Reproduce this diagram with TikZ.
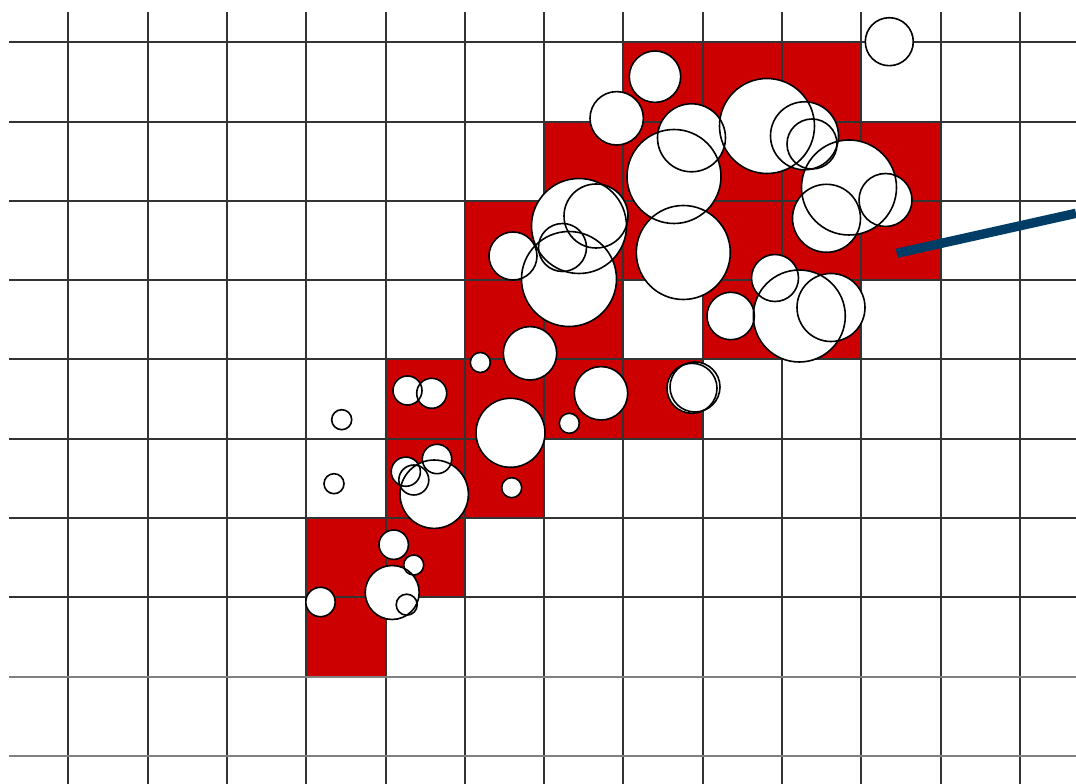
\documentclass[tikz,border=0pt]{standalone}
\usepackage{tikz}
\definecolor{cellred}{RGB}{204,0,0}
\definecolor{lineblue}{RGB}{0,61,102}
\tikzset{
  gridv/.style={draw=black!80, line width=1.5pt},
  gridh/.style={draw=black!80, line width=1.5pt},
  gridhlight/.style={draw=black!50, line width=1.4pt},
  redcell/.style={fill=cellred},
  bubblefill/.style={fill=white},
  bubbleline/.style={draw=black, line width=1.2pt},
  pointer/.style={draw=lineblue, line width=7pt}
}
\begin{document}
\begin{tikzpicture}[x=0.75pt,y=-0.75pt]
\useasboundingbox (0,0) rectangle (1076,784);
\fill[white] (0,0) rectangle (1076,784);
% red cells
\foreach \c/\r in {7/0,8/0,9/0,
  6/1,7/1,8/1,9/1,10/1,
  5/2,6/2,7/2,8/2,9/2,10/2,
  5/3,6/3,8/3,9/3,
  4/4,5/4,6/4,7/4,
  4/5,5/5,
  3/6,4/6,
  3/7}
  \fill[redcell] ({68.3+79.3*\c},{42.3+79.3*\r}) rectangle ++(79.3,79.3);
% grid
\foreach \i in {0,...,12}
  \draw[gridv] ({68.3+79.3*\i},12) -- ({68.3+79.3*\i},784);
\foreach \j in {0,...,7}
  \draw[gridh] (9,{42.3+79.3*\j}) -- (1076,{42.3+79.3*\j});
\foreach \j in {8,9}
  \draw[gridhlight] (9,{42.3+79.3*\j}) -- (1076,{42.3+79.3*\j});
% bubbles
\def\bubbles{655/76.7/25.7, 616.7/118.3/26.7, 691.5/137.8/34, 674/176.5/47,
  767/126/47.5, 804.5/135.8/34, 812/144/25, 849/187.5/47.5, 885.5/200/26.5,
  826.5/218.3/34, 889.3/41.7/24, 683.3/252.5/47, 579/226/47.5, 596/216/32,
  513/256/24, 562.5/247.5/24, 569/279/47.5, 775/278/23.5, 730.7/316/23.7,
  799.3/316/46, 831/307.5/34, 530/353.3/26.7, 480.3/362.5/10, 601/393.3/26.7,
  692/388.3/25, 695/387/25, 341.7/419.7/10, 334/483.7/10, 407.5/390.5/14.5,
  431.7/393.3/15, 510.5/432.8/34.5, 569.3/423.3/10, 511.7/487.7/10,
  437/459/14.7, 405.8/471.7/14.6, 413.8/480/15, 434.2/494.2/34.2,
  393.7/544.7/14.7, 413.7/565/10, 392.2/592.5/27, 406.7/604.7/10.5,
  320.5/602/14.7}
\foreach \x/\y/\r in \bubbles
  \fill[bubblefill] (\x,\y) circle[radius={\r*0.75pt}];
\foreach \x/\y/\r in \bubbles
  \draw[bubbleline] (\x,\y) circle[radius={\r*0.75pt}];
% pointer line
\coordinate (pstart) at (896.7,253.3);
\coordinate (pend) at (1076,213.3);
\draw[pointer] (pstart) -- (pend);
\end{tikzpicture}
\end{document}
